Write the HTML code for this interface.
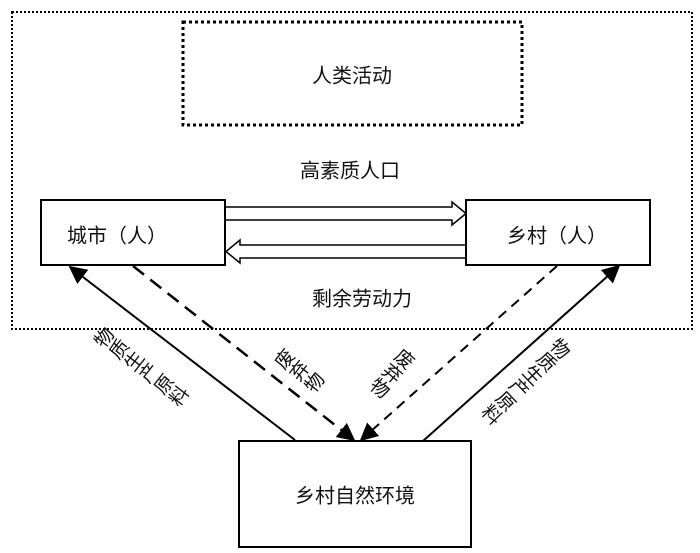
<!DOCTYPE html>
<html><head><meta charset="utf-8"><style>
body{margin:0;width:700px;height:553px;background:#fff;position:relative;overflow:hidden;font-family:"Liberation Sans","Noto Sans CJK SC",sans-serif;color:#111}
.t{position:absolute;font-size:20px;white-space:nowrap;transform:translate(-50%,-50%)}
.v{position:absolute;font-size:19px;writing-mode:vertical-rl;white-space:nowrap;line-height:1}
</style></head><body>
<svg width="700" height="553" style="position:absolute;left:0;top:0">
<defs>
<marker id="a" viewBox="0 0 10 10" refX="9" refY="5" markerWidth="7" markerHeight="7" orient="auto" markerUnits="userSpaceOnUse"><path d="M0,0L10,5L0,10z" fill="#000"/></marker>
<marker id="b" viewBox="0 0 10 10" refX="9" refY="5" markerWidth="18" markerHeight="18" orient="auto" markerUnits="userSpaceOnUse"><path d="M0,0L10,5L0,10z" fill="#000"/></marker>
</defs>
<rect x="12" y="12" width="680" height="317" fill="none" stroke="#000" stroke-width="2" stroke-dasharray="2,2"/>
<rect x="183" y="22" width="339" height="103" fill="none" stroke="#000" stroke-width="3" stroke-dasharray="3,3"/>
<rect x="41" y="200" width="184" height="65" fill="#fff" stroke="#000" stroke-width="2"/>
<rect x="466" y="200" width="184" height="65" fill="#fff" stroke="#000" stroke-width="2"/>
<rect x="239" y="441" width="232" height="106" fill="#fff" stroke="#000" stroke-width="2"/>
<!-- hollow arrows -->
<path d="M226,207H452V202L466,213.5L452,225V220H226" fill="#fff" stroke="#000" stroke-width="1.5"/>
<path d="M465,245H240V240L226,251.5L240,263V258H465" fill="#fff" stroke="#000" stroke-width="1.5"/>
<!-- diagonal arrows -->
<line x1="295" y1="440" x2="70" y2="267" stroke="#000" stroke-width="2" marker-end="url(#b)"/>
<line x1="133" y1="266" x2="354" y2="440" stroke="#000" stroke-width="2.5" stroke-dasharray="14,8" marker-end="url(#b)"/>
<line x1="557" y1="266" x2="361" y2="440" stroke="#000" stroke-width="2" stroke-dasharray="10,7" marker-end="url(#b)"/>
<line x1="423" y1="441" x2="619" y2="266" stroke="#000" stroke-width="2" marker-end="url(#b)"/>
</svg>
<div class="t" style="left:352px;top:74px">人类活动</div>
<div class="t" style="left:350px;top:169px">高素质人口</div>
<div class="t" style="left:362px;top:297px">剩余劳动力</div>
<div class="t" style="left:117px;top:234px">城市（人）</div>
<div class="t" style="left:557px;top:234px">乡村（人）</div>
<div class="t" style="left:355px;top:494px">乡村自然环境</div>
<div class="v" style="left:140px;top:368px;transform:translate(-50%,-50%) rotate(-52deg)">物质生产原料</div>
<div class="v" style="left:298px;top:372px;transform:translate(-50%,-50%) rotate(-52deg)">废弃物</div>
<div class="v" style="left:391px;top:372px;transform:translate(-50%,-50%) rotate(40deg)">废弃物</div>
<div class="v" style="left:525px;top:380px;transform:translate(-50%,-50%) rotate(46deg)">物质生产原料</div>
</body></html>
